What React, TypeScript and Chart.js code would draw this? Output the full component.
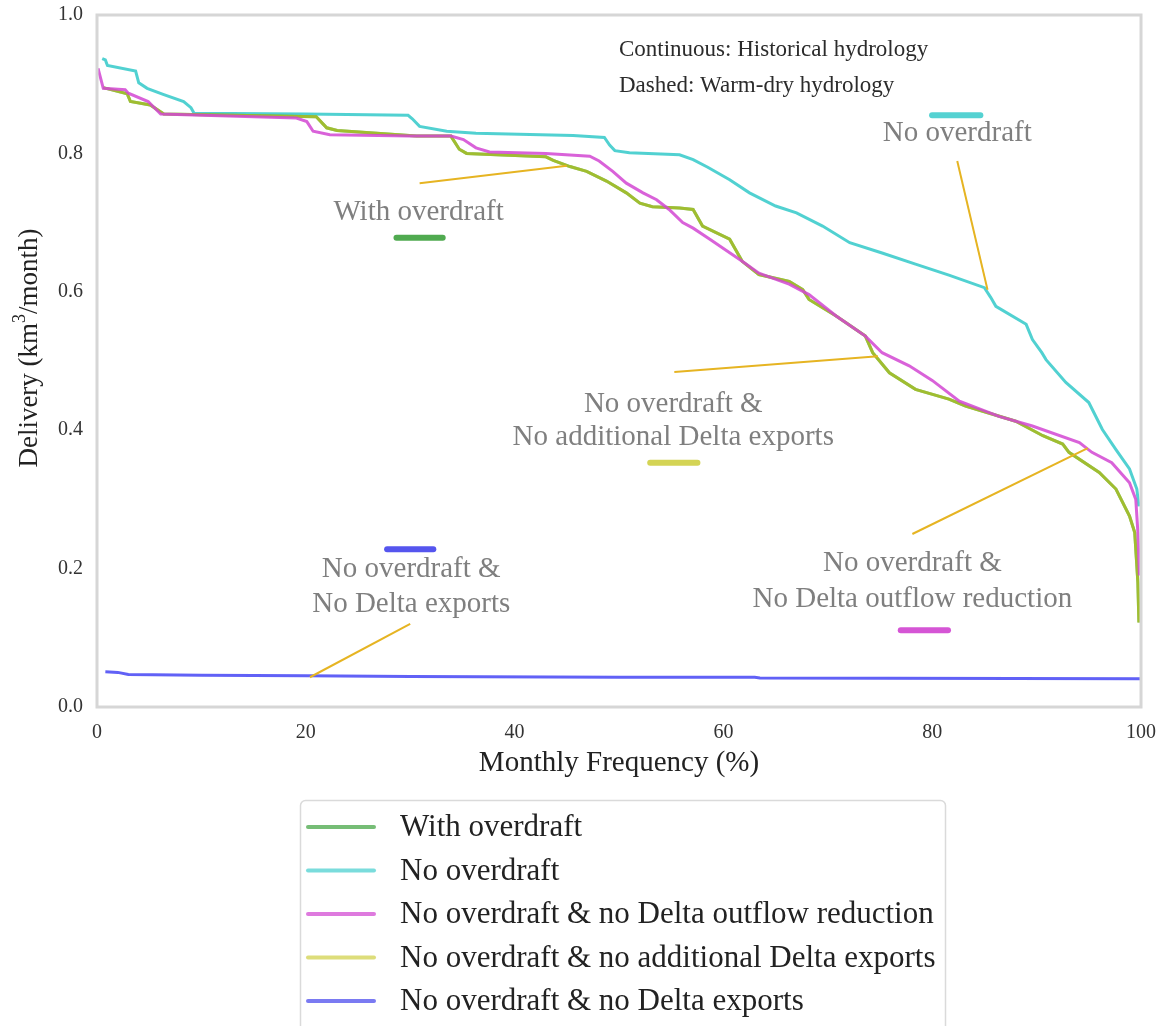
import React, { useEffect, useRef } from "react";
import { Chart, registerables } from "chart.js";

Chart.register(...registerables);

type Pt = [number, number];

// Axis ticks
const xTicks = [0, 20, 40, 60, 80, 100];
const yTicks = [0, 0.2, 0.4, 0.6, 0.8, 1.0];

// Series names (legend order)
const seriesLabels = [
  "With overdraft",
  "No overdraft",
  "No overdraft & no Delta outflow reduction",
  "No overdraft & no additional Delta exports",
  "No overdraft & no Delta exports",
];

// Exceedance curves: [monthly frequency %, delivery km3/month]
const withOverdraft: Pt[] = [
  [0.6, 0.895], [2.9, 0.886], [3.2, 0.875], [5.1, 0.87], [6.4, 0.857], [21.0, 0.853],
  [22.0, 0.837], [23.0, 0.833], [30.6, 0.825], [33.9, 0.825], [34.7, 0.806], [35.4, 0.8],
  [43.0, 0.795], [43.7, 0.79], [45.3, 0.781], [46.9, 0.774], [48.8, 0.76], [50.7, 0.743],
  [52.0, 0.728], [53.2, 0.723], [55.8, 0.721], [57.1, 0.719], [58.0, 0.695], [60.6, 0.676],
  [61.8, 0.644], [63.4, 0.625], [66.3, 0.615], [67.6, 0.603], [68.2, 0.589], [70.8, 0.565],
  [73.6, 0.536], [74.3, 0.512], [75.9, 0.483], [78.4, 0.459], [81.6, 0.445], [83.2, 0.435],
  [88.0, 0.413], [90.6, 0.392], [92.5, 0.38], [93.1, 0.368], [96.0, 0.339], [97.6, 0.315],
  [98.9, 0.276], [99.4, 0.252], [99.7, 0.18], [99.8, 0.122],
];

const noOverdraft: Pt[] = [
  [0.5, 0.937], [0.8, 0.935], [1.0, 0.927], [3.7, 0.919], [4.0, 0.902], [4.8, 0.894],
  [6.4, 0.885], [8.3, 0.875], [9.0, 0.866], [9.3, 0.858], [20.0, 0.857], [29.8, 0.855],
  [30.2, 0.85], [30.9, 0.839], [33.5, 0.832], [36.3, 0.829], [45.6, 0.826], [48.6, 0.823],
  [49.1, 0.812], [49.6, 0.804], [51.0, 0.801], [55.8, 0.798], [57.1, 0.791], [58.5, 0.78],
  [60.6, 0.762], [62.5, 0.743], [65.0, 0.724], [67.0, 0.714], [69.5, 0.695], [72.1, 0.671],
  [75.2, 0.656], [78.4, 0.64], [81.6, 0.624], [85.0, 0.606], [85.6, 0.592], [86.1, 0.579],
  [89.0, 0.553], [89.6, 0.531], [90.5, 0.512], [90.9, 0.502], [92.8, 0.469], [95.0, 0.44],
  [96.3, 0.401], [97.6, 0.372], [98.9, 0.344], [99.6, 0.315], [99.8, 0.29],
];

const noOutflowReduction: Pt[] = [
  [0.1, 0.923], [0.6, 0.894], [2.7, 0.892], [3.0, 0.887], [4.9, 0.875], [6.1, 0.857],
  [19.1, 0.851], [20.1, 0.846], [20.7, 0.832], [22.3, 0.827], [30.0, 0.825], [33.9, 0.825],
  [35.1, 0.82], [36.3, 0.808], [37.6, 0.802], [43.0, 0.8], [47.2, 0.796], [48.1, 0.789],
  [49.4, 0.774], [50.7, 0.757], [52.3, 0.743], [53.6, 0.733], [54.8, 0.719], [56.1, 0.7],
  [57.1, 0.692], [58.7, 0.676], [61.8, 0.644], [63.4, 0.627], [66.3, 0.611], [68.2, 0.596],
  [70.8, 0.565], [73.6, 0.536], [75.2, 0.512], [77.8, 0.493], [80.0, 0.472], [82.6, 0.442],
  [86.4, 0.42], [89.6, 0.406], [94.1, 0.382], [95.3, 0.368], [97.2, 0.353], [98.9, 0.324],
  [99.5, 0.3], [99.7, 0.253], [99.85, 0.19],
];

const noAdditionalExports: Pt[] = [
  [0.6, 0.895], [2.9, 0.886], [3.2, 0.875], [5.1, 0.87], [6.4, 0.857], [21.0, 0.853],
  [22.0, 0.837], [23.0, 0.833], [30.6, 0.825], [33.9, 0.825], [34.7, 0.806], [35.4, 0.8],
  [43.0, 0.795], [43.7, 0.79], [45.3, 0.781], [46.9, 0.774], [48.8, 0.76], [50.7, 0.743],
  [52.0, 0.728], [53.2, 0.723], [55.8, 0.721], [57.1, 0.719], [58.0, 0.695], [60.6, 0.676],
  [61.8, 0.644], [63.4, 0.625], [66.3, 0.615], [67.6, 0.603], [68.2, 0.589], [70.8, 0.565],
  [73.6, 0.536], [74.3, 0.512], [75.9, 0.483], [78.4, 0.459], [81.6, 0.445], [83.2, 0.435],
  [88.0, 0.413], [90.6, 0.392], [92.5, 0.38], [93.1, 0.368], [96.0, 0.339], [97.6, 0.315],
  [98.9, 0.276], [99.4, 0.252], [99.7, 0.18], [99.8, 0.122],
];

const noExports: Pt[] = [
  [0.8, 0.051], [2.0, 0.05], [3.0, 0.047], [10.0, 0.046], [20.0, 0.045], [30.0, 0.044],
  [50.0, 0.043], [63.0, 0.043], [63.5, 0.042], [100.0, 0.041],
];

const seriesData = [withOverdraft, noOverdraft, noOutflowReduction, noAdditionalExports, noExports];

// Styling
const SERIF = "'Liberation Serif', 'Times New Roman', Times, serif";
const lineColors = [
  "rgba(77,175,74,0.85)",
  "rgba(72,207,207,0.95)",
  "rgba(210,70,210,0.85)",
  "rgba(190,190,20,0.65)",
  "rgba(80,80,245,0.9)",
];
const keyColors = ["#50aa50", "#55d2d2", "#d555d5", "#d4d455", "#5555ee"];
const drawOrder = [3, 4, 1, 2, 5];
const LEADER = "#E6B422";

// Callout notes, placed in data coordinates
type Note = {
  series: number;
  lines: { text: string; y: number }[];
  x: number;
  bar: [number, number, number];
  leader: [Pt, Pt];
};

const notes: Note[] = [
  {
    series: 1,
    lines: [{ text: "No overdraft", y: 0.829 }],
    x: 82.4,
    bar: [79.7, 84.9, 0.855],
    leader: [[82.4, 0.789], [85.3, 0.603]],
  },
  {
    series: 0,
    lines: [{ text: "With overdraft", y: 0.715 }],
    x: 30.8,
    bar: [28.4, 33.4, 0.678],
    leader: [[30.9, 0.757], [45.0, 0.782]],
  },
  {
    series: 3,
    lines: [
      { text: "No overdraft &", y: 0.438 },
      { text: "No additional Delta exports", y: 0.39 },
    ],
    x: 55.2,
    bar: [52.7, 57.8, 0.353],
    leader: [[55.3, 0.484], [74.8, 0.507]],
  },
  {
    series: 2,
    lines: [
      { text: "No overdraft &", y: 0.208 },
      { text: "No Delta outflow reduction", y: 0.156 },
    ],
    x: 78.1,
    bar: [76.7, 81.8, 0.111],
    leader: [[78.1, 0.25], [94.9, 0.374]],
  },
  {
    series: 4,
    lines: [
      { text: "No overdraft &", y: 0.199 },
      { text: "No Delta exports", y: 0.149 },
    ],
    x: 30.1,
    bar: [27.5, 32.5, 0.228],
    leader: [[30.0, 0.12], [20.4, 0.043]],
  },
];

const hydrologyNotes = [
  { text: "Continuous: Historical hydrology", x: 50.0, y: 0.949 },
  { text: "Dashed: Warm-dry hydrology", x: 50.0, y: 0.897 },
];

const framePlugin = {
  id: "frame",
  afterDraw(chart: any) {
    const { ctx, chartArea: a } = chart;
    ctx.save();
    ctx.strokeStyle = "#d6d6d6";
    ctx.lineWidth = 3;
    ctx.strokeRect(a.left, a.top, a.right - a.left, a.bottom - a.top);
    ctx.restore();
  },
};

// Vertical axis title with a raised exponent
const yTitlePlugin = {
  id: "yTitle",
  afterDraw(chart: any) {
    const { ctx } = chart;
    const a = chart.chartArea;
    const parts = [
      { text: "Delivery (km", size: 27, rise: 0 },
      { text: "3", size: 18, rise: -10 },
      { text: "/month)", size: 27, rise: 0 },
    ];
    ctx.save();
    ctx.translate(30, (a.top + a.bottom) / 2 - 13);
    ctx.rotate(-Math.PI / 2);
    ctx.fillStyle = "#222";
    ctx.textBaseline = "middle";
    ctx.textAlign = "left";
    let total = 0;
    for (const p of parts) {
      ctx.font = `${p.size}px ${SERIF}`;
      total += ctx.measureText(p.text).width;
    }
    let x = -total / 2;
    for (const p of parts) {
      ctx.font = `${p.size}px ${SERIF}`;
      ctx.fillText(p.text, x, p.rise);
      x += ctx.measureText(p.text).width;
    }
    ctx.restore();
  },
};

const notesPlugin = {
  id: "notes",
  afterDatasetsDraw(chart: any) {
    const { ctx } = chart;
    const xs = chart.scales.x;
    const ys = chart.scales.y;
    ctx.save();
    for (const n of notes) {
      ctx.strokeStyle = LEADER;
      ctx.lineWidth = 2;
      ctx.lineCap = "butt";
      ctx.beginPath();
      ctx.moveTo(xs.getPixelForValue(n.leader[0][0]), ys.getPixelForValue(n.leader[0][1]));
      ctx.lineTo(xs.getPixelForValue(n.leader[1][0]), ys.getPixelForValue(n.leader[1][1]));
      ctx.stroke();

      ctx.strokeStyle = keyColors[n.series];
      ctx.lineWidth = 6;
      ctx.lineCap = "round";
      ctx.beginPath();
      const by = ys.getPixelForValue(n.bar[2]);
      ctx.moveTo(xs.getPixelForValue(n.bar[0]) + 3, by);
      ctx.lineTo(xs.getPixelForValue(n.bar[1]) - 3, by);
      ctx.stroke();

      ctx.fillStyle = "#7f7f7f";
      ctx.font = `29px ${SERIF}`;
      ctx.textAlign = "center";
      ctx.textBaseline = "middle";
      for (const l of n.lines) {
        ctx.fillText(l.text, xs.getPixelForValue(n.x), ys.getPixelForValue(l.y));
      }
    }
    ctx.fillStyle = "#2b2b2b";
    ctx.font = `23px ${SERIF}`;
    ctx.textAlign = "left";
    ctx.textBaseline = "middle";
    for (const h of hydrologyNotes) {
      ctx.fillText(h.text, xs.getPixelForValue(h.x), ys.getPixelForValue(h.y));
    }
    ctx.restore();
  },
};

const legendPlugin = {
  id: "boxLegend",
  afterDraw(chart: any) {
    const { ctx } = chart;
    ctx.save();
    ctx.strokeStyle = "#dadada";
    ctx.lineWidth = 1.5;
    ctx.beginPath();
    ctx.roundRect(300.5, 800.5, 645, 260, 5);
    ctx.stroke();
    chart.data.datasets.forEach((ds: any, i: number) => {
      const y = 827 + i * 43.5;
      ctx.globalAlpha = 0.78;
      ctx.strokeStyle = keyColors[i];
      ctx.lineWidth = 4;
      ctx.lineCap = "round";
      ctx.beginPath();
      ctx.moveTo(308, y);
      ctx.lineTo(374, y);
      ctx.stroke();
      ctx.globalAlpha = 1;
      ctx.fillStyle = "#222";
      ctx.font = `31px ${SERIF}`;
      ctx.textAlign = "left";
      ctx.textBaseline = "middle";
      ctx.fillText(ds.label, 400, y + 1);
    });
    ctx.restore();
  },
};

export default function App() {
  const ref = useRef<HTMLCanvasElement>(null);

  useEffect(() => {
    if (!ref.current) return;
    const chart = new Chart(ref.current, {
      type: "line",
      data: {
        datasets: seriesLabels.map((label, i) => ({
          label,
          data: seriesData[i].map(([x, y]) => ({ x, y })),
          borderColor: lineColors[i],
          backgroundColor: lineColors[i],
          borderWidth: 3,
          pointRadius: 0,
          tension: 0,
          fill: false,
          order: drawOrder[i],
        })),
      },
      options: {
        animation: false,
        responsive: false,
        maintainAspectRatio: false,
        layout: { padding: { left: 0, top: 15, right: 18, bottom: 245 } },
        plugins: { legend: { display: false }, tooltip: { enabled: false } },
        scales: {
          x: {
            type: "linear",
            min: xTicks[0],
            max: xTicks[xTicks.length - 1],
            afterBuildTicks: (s: any) => {
              s.ticks = xTicks.map((v) => ({ value: v }));
            },
            ticks: {
              font: { family: SERIF, size: 20 },
              color: "#333",
              padding: 14,
              maxRotation: 0,
              autoSkip: false,
              callback: (v: any) => String(v),
            },
            grid: { display: false, drawTicks: false },
            border: { display: false },
            title: {
              display: true,
              text: "Monthly Frequency (%)",
              font: { family: SERIF, size: 29 },
              color: "#222",
              padding: 0,
            },
            afterFit: (s: any) => {
              s.height = 74;
              s.paddingLeft = 0;
              s.paddingRight = 0;
            },
          },
          y: {
            type: "linear",
            min: yTicks[0],
            max: yTicks[yTicks.length - 1],
            afterBuildTicks: (s: any) => {
              s.ticks = yTicks.map((v) => ({ value: v }));
            },
            ticks: {
              font: { family: SERIF, size: 20 },
              color: "#333",
              padding: 14,
              autoSkip: false,
              callback: (v: any) => Number(v).toFixed(1),
            },
            grid: { display: false, drawTicks: false },
            border: { display: false },
            title: { display: false },
            afterFit: (s: any) => {
              s.width = 97;
              s.paddingTop = 0;
              s.paddingBottom = 0;
            },
          },
        },
      },
      plugins: [framePlugin, notesPlugin, legendPlugin, yTitlePlugin],
    });
    return () => chart.destroy();
  }, []);

  return (
    <div style={{ position: "absolute", left: 0, top: 0, width: 1159, height: 1026, background: "#fff" }}>
      <canvas ref={ref} width={1159} height={1026} style={{ display: "block" }} />
    </div>
  );
}
